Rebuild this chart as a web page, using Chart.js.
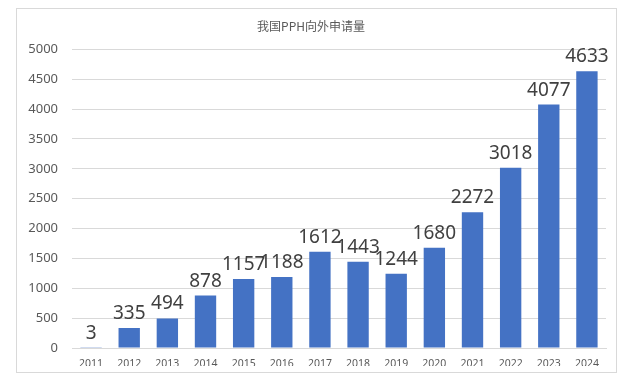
<!DOCTYPE html>
<html>
<head>
<meta charset="utf-8">
<script src="https://cdn.jsdelivr.net/npm/chart.js@4/dist/chart.umd.min.js"></script>
<style>
  html, body { margin: 0; padding: 0; background: #fff; }
  #wrap { width: 628px; height: 383px; position: relative; }
</style>
</head>
<body>
<div id="wrap"><canvas id="c" width="628" height="383"></canvas></div>
<script>
const titleText = "我国PPH向外申请量";
const years = ["2011","2012","2013","2014","2015","2016","2017","2018","2019","2020","2021","2022","2023","2024"];
const applications = [3, 335, 494, 878, 1157, 1188, 1612, 1443, 1244, 1680, 2272, 3018, 4077, 4633];
const yTicks = [0, 500, 1000, 1500, 2000, 2500, 3000, 3500, 4000, 4500, 5000];

const frame = {
  id: 'frame',
  beforeDraw(chart) {
    const ctx = chart.ctx;
    ctx.save();
    ctx.fillStyle = '#fff';
    ctx.fillRect(0, 0, chart.width, chart.height);
    ctx.strokeStyle = '#d9d9d9';
    ctx.lineWidth = 1;
    ctx.strokeRect(16.5, 8.5, 600, 364);
    ctx.restore();
  }
};

const labels = {
  id: 'valueLabels',
  afterDatasetsDraw(chart) {
    const ctx = chart.ctx;
    const meta = chart.getDatasetMeta(0);
    ctx.save();
    ctx.font = '19px "Noto Sans", sans-serif';
    ctx.fillStyle = '#404040';
    ctx.textAlign = 'center';
    ctx.textBaseline = 'alphabetic';
    meta.data.forEach((bar, i) => {
      ctx.fillText(String(chart.data.datasets[0].data[i]), bar.x, bar.y - 9);
    });
    ctx.restore();
  }
};

new Chart(document.getElementById('c'), {
  type: 'bar',
  data: {
    labels: years,
    datasets: [{
      data: applications,
      backgroundColor: '#4472C4',
      borderWidth: 0,
      categoryPercentage: 1,
      barPercentage: 0.56
    }]
  },
  options: {
    responsive: false,
    animation: false,
    layout: { padding: { left: 16, right: 22, top: 0, bottom: 17 } },
    plugins: {
      legend: { display: false },
      tooltip: { enabled: false },
      title: {
        display: true,
        text: titleText,
        color: '#595959',
        font: { family: '"Noto Sans CJK SC", "Noto Sans", sans-serif', size: 12, weight: 'normal' },
        padding: { top: 19, bottom: 16 }
      }
    },
    scales: {
      x: {
        grid: { display: false },
        border: { display: true, color: '#d9d9d9' },
        ticks: { color: '#595959', font: { family: '"Noto Sans", sans-serif', size: 10.5 }, padding: 2, maxRotation: 0 },
        afterFit(axis) { axis.height = 18; }
      },
      y: {
        min: 0, max: 5000,
        afterBuildTicks(axis) { axis.ticks = yTicks.map(v => ({ value: v })); },
        grid: { color: '#d9d9d9', drawTicks: false },
        border: { display: false },
        ticks: { color: '#595959', font: { family: '"Noto Sans", sans-serif', size: 13 }, padding: 14, callback: v => String(v) },
        afterFit(axis) { axis.width = 56; }
      }
    }
  },
  plugins: [frame, labels]
});
</script>
</body>
</html>
